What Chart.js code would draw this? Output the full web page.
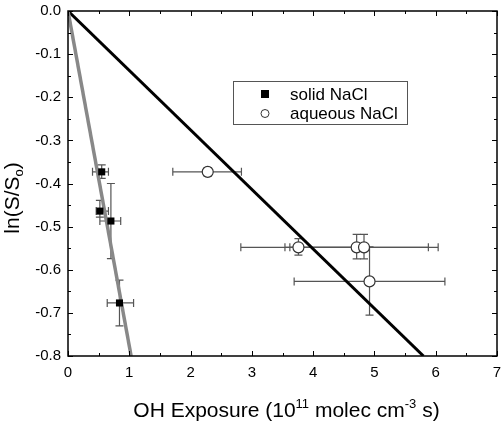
<!DOCTYPE html>
<html>
<head>
<meta charset="utf-8">
<script src="https://cdn.jsdelivr.net/npm/chart.js@4"></script>
<style>
  html, body { margin: 0; padding: 0; background: #fff; }
  #wrap { width: 504px; height: 426px; }
</style>
</head>
<body>
<div id="wrap"><canvas id="chart" width="504" height="426"></canvas></div>
<script>
// solid NaCl points
const solidX = [0.55, 0.52, 0.70, 0.84];
const solidY = [-0.373, -0.464, -0.487, -0.677];
const solidXLo = [0.40, 0.46, 0.52, 0.64];
const solidXHi = [0.66, 0.66, 0.86, 1.07];
const solidYLo = [-0.388, -0.478, -0.574, -0.730];
const solidYHi = [-0.357, -0.439, -0.400, -0.624];

// aqueous NaCl points
const aqX = [2.28, 3.76, 4.71, 4.83, 4.92];
const aqY = [-0.373, -0.548, -0.548, -0.548, -0.627];
const aqXLo = [1.71, 2.82, 3.54, 3.62, 3.69];
const aqXHi = [2.83, 4.70, 5.88, 6.04, 6.15];
const aqYLo = [-0.383, -0.566, -0.575, -0.575, -0.705];
const aqYHi = [-0.363, -0.528, -0.518, -0.518, -0.547];

// fit lines
const solidFitX = [0, 1.03];
const solidFitY = [0, -0.8];
const aqFitX = [0, 5.8];
const aqFitY = [0, -0.8];

const xTicks = [0, 1, 2, 3, 4, 5, 6, 7];
const yTicks = [0, -0.1, -0.2, -0.3, -0.4, -0.5, -0.6, -0.7, -0.8];

const FONT = 'Arial, "Liberation Sans", sans-serif';

function pts(xs, ys) {
  return xs.map((x, i) => ({ x: x, y: ys[i] }));
}

// draws pieces of text side by side: [text, size, baseline shift]
function drawParts(ctx, parts, cx, base) {
  let w = 0;
  parts.forEach(p => { ctx.font = p[1] + "px " + FONT; w += ctx.measureText(p[0]).width; });
  let x = cx - w / 2;
  parts.forEach(p => {
    ctx.font = p[1] + "px " + FONT;
    ctx.fillText(p[0], x, base + p[2]);
    x += ctx.measureText(p[0]).width;
  });
}

// error bars, drawn under the markers
const errorBars = {
  id: "errorBars",
  beforeDatasetsDraw(chart) {
    const ctx = chart.ctx;
    const xs = chart.scales.x, ys = chart.scales.y;
    const cap = 4;
    chart.data.datasets.forEach(ds => {
      if (!ds.err) return;
      ctx.save();
      ctx.strokeStyle = "#555";
      ctx.lineWidth = 1.2;
      ds.data.forEach((p, i) => {
        const px = xs.getPixelForValue(p.x), py = ys.getPixelForValue(p.y);
        const x1 = xs.getPixelForValue(ds.err.xlo[i]), x2 = xs.getPixelForValue(ds.err.xhi[i]);
        const y1 = ys.getPixelForValue(ds.err.ylo[i]), y2 = ys.getPixelForValue(ds.err.yhi[i]);
        ctx.beginPath();
        ctx.moveTo(x1, py); ctx.lineTo(x2, py);
        ctx.moveTo(x1, py - cap); ctx.lineTo(x1, py + cap);
        ctx.moveTo(x2, py - cap); ctx.lineTo(x2, py + cap);
        ctx.moveTo(px, y1); ctx.lineTo(px, y2);
        ctx.moveTo(px - cap, y1); ctx.lineTo(px + cap, y1);
        ctx.moveTo(px - cap, y2); ctx.lineTo(px + cap, y2);
        ctx.stroke();
      });
      ctx.restore();
    });
  }
};

// frame, inside ticks, axis titles, legend box
const decor = {
  id: "decor",
  afterDraw(chart) {
    const ctx = chart.ctx;
    const a = chart.chartArea;
    const xs = chart.scales.x, ys = chart.scales.y;
    ctx.save();
    ctx.strokeStyle = "#000";
    ctx.lineWidth = 1.5;
    ctx.strokeRect(a.left, a.top, a.right - a.left, a.bottom - a.top);

    ctx.lineWidth = 1;
    ctx.beginPath();
    for (let k = 0; k <= 14; k++) {
      const len = k % 2 === 0 ? 5 : 3;
      const px = Math.round(xs.getPixelForValue(k * 0.5)) + 0.5;
      ctx.moveTo(px, a.bottom); ctx.lineTo(px, a.bottom - len);
      ctx.moveTo(px, a.top); ctx.lineTo(px, a.top + len);
    }
    for (let k = 0; k <= 16; k++) {
      const len = k % 2 === 0 ? 5 : 3;
      const py = Math.round(ys.getPixelForValue(-k * 0.05)) + 0.5;
      ctx.moveTo(a.left, py); ctx.lineTo(a.left + len, py);
      ctx.moveTo(a.right, py); ctx.lineTo(a.right - len, py);
    }
    ctx.stroke();

    // axis titles
    ctx.fillStyle = "#000";
    ctx.textBaseline = "alphabetic";
    drawParts(ctx, [
      ["OH Exposure (10", 21, 0],
      ["11", 13, -9],
      [" molec cm", 21, 0],
      ["-3", 13, -9],
      [" s)", 21, 0]
    ], (a.left + a.right) / 2 + 4, 417);

    ctx.save();
    ctx.translate(19, 198);
    ctx.rotate(-Math.PI / 2);
    drawParts(ctx, [["ln(S/S", 21, 0], ["o", 13, 4], [")", 21, 0]], 0, 0);
    ctx.restore();

    // legend
    ctx.lineWidth = 1;
    ctx.strokeStyle = "#555";
    ctx.strokeRect(233.5, 81.5, 174, 43);
    ctx.font = "17px " + FONT;
    ctx.textBaseline = "middle";
    ctx.fillStyle = "#000";
    const dsSolid = chart.data.datasets.find(d => d.label === "solid NaCl");
    const dsAq = chart.data.datasets.find(d => d.label === "aqueous NaCl");
    ctx.fillRect(261, 90, 8, 8);
    ctx.fillText(dsSolid.label, 290, 95);
    ctx.beginPath();
    ctx.arc(265, 113.5, 4, 0, Math.PI * 2);
    ctx.fillStyle = "#fff";
    ctx.fill();
    ctx.strokeStyle = "#333";
    ctx.stroke();
    ctx.fillStyle = "#000";
    ctx.fillText(dsAq.label, 290, 114);
    ctx.restore();
  }
};

new Chart(document.getElementById("chart"), {
  type: "scatter",
  data: {
    datasets: [
      {
        label: "solid fit",
        data: pts(solidFitX, solidFitY),
        showLine: true,
        borderColor: "#888",
        borderWidth: 3.5,
        pointRadius: 0,
        order: 2
      },
      {
        label: "aqueous fit",
        data: pts(aqFitX, aqFitY),
        showLine: true,
        borderColor: "#000",
        borderWidth: 3,
        pointRadius: 0,
        order: 2
      },
      {
        label: "solid NaCl",
        data: pts(solidX, solidY),
        pointStyle: "rect",
        pointRadius: 5,
        backgroundColor: "#000",
        borderColor: "#000",
        borderWidth: 0,
        order: 1,
        err: { xlo: solidXLo, xhi: solidXHi, ylo: solidYLo, yhi: solidYHi }
      },
      {
        label: "aqueous NaCl",
        data: pts(aqX, aqY),
        pointStyle: "circle",
        pointRadius: 5.5,
        backgroundColor: "#fff",
        borderColor: "#333",
        borderWidth: 1.2,
        order: 1,
        err: { xlo: aqXLo, xhi: aqXHi, ylo: aqYLo, yhi: aqYHi }
      }
    ]
  },
  options: {
    responsive: false,
    animation: false,
    devicePixelRatio: 1,
    layout: { padding: { top: 11, right: 7, left: 0, bottom: 0 } },
    plugins: { legend: { display: false }, tooltip: { enabled: false } },
    scales: {
      x: {
        type: "linear",
        min: 0, max: 7,
        afterBuildTicks: s => { s.ticks = xTicks.map(v => ({ value: v })); },
        afterFit: s => { s.height = 70; s.paddingLeft = 0; s.paddingRight = 0; },
        grid: { display: false, drawTicks: false, tickLength: 0 },
        border: { display: false },
        ticks: { color: "#000", font: { family: FONT, size: 15 }, padding: 8, maxRotation: 0,
                 callback: v => String(v) }
      },
      y: {
        type: "linear",
        min: -0.8, max: 0,
        afterBuildTicks: s => { s.ticks = yTicks.map(v => ({ value: v })); },
        afterFit: s => { s.width = 68; s.paddingTop = 0; s.paddingBottom = 0; },
        grid: { display: false, drawTicks: false, tickLength: 0 },
        border: { display: false },
        ticks: { color: "#000", font: { family: FONT, size: 15 }, padding: 7,
                 callback: v => v.toFixed(1) }
      }
    }
  },
  plugins: [errorBars, decor]
});
</script>
</body>
</html>
